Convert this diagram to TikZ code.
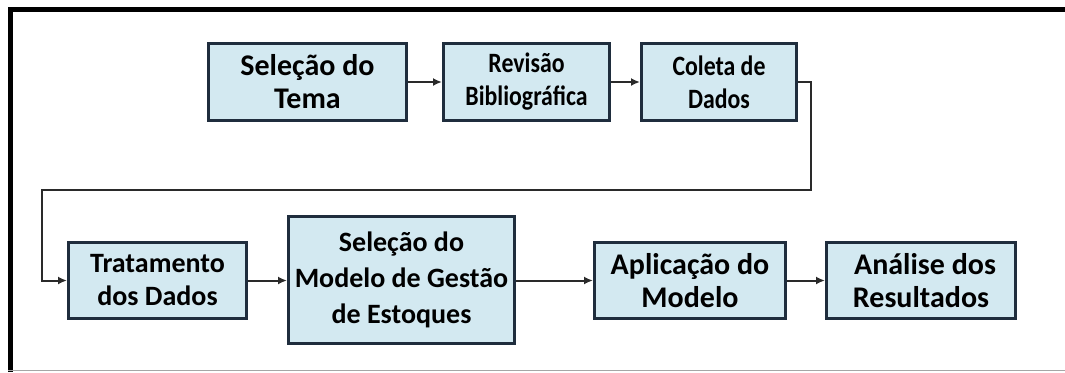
\documentclass[tikz,border=0pt]{standalone}
\usepackage{fontspec}
\usepackage{graphicx}
\setmainfont{Carlito}
\newcommand{\narrowline}[1]{\scalebox{0.85}[1]{#1}}
\usetikzlibrary{arrows.meta}
\definecolor{boxfill}{HTML}{D3E9F1}
\definecolor{boxline}{HTML}{1F2D3D}
\definecolor{linkcol}{HTML}{2A2A2A}
\tikzset{
  stepbox/.style={draw=boxline, fill=boxfill, line width=3pt, align=center, inner sep=0pt,
    font=\fontsize{28}{33}\selectfont\bfseries},
  bigtext/.style={font=\fontsize{30}{33}\selectfont\bfseries},
  link/.style={draw=linkcol, line width=2pt, -{Latex[length=9pt,width=8pt]}},
}
\begin{document}
\begin{tikzpicture}[x=1pt,y=-1pt]
\useasboundingbox (0,0) rectangle (1065,372);
% frame
\draw[line width=5pt, black] (10.5,372) -- (10.5,9.5) -- (1065,9.5);
\draw[line width=1.5pt, gray!70] (8,370.5) -- (1065,370.5);
% boxes
\node[stepbox, bigtext, minimum width=198pt, minimum height=77pt] (tema) at (307.5,82) {Seleção do\\Tema};
\node[stepbox, minimum width=166pt, minimum height=77pt] (rev) at (526.5,82) {\narrowline{Revisão}\\\narrowline{Bibliográfica}};
\node[stepbox, minimum width=155pt, minimum height=77pt] (col) at (719,82) {\narrowline{Coleta de}\\\narrowline{Dados}};
\node[stepbox, minimum width=178pt, minimum height=76pt] (trat) at (157.5,280.5) {Tratamento\\dos Dados};
\node[stepbox, minimum width=226pt, minimum height=127pt, font=\fontsize{28}{36}\selectfont\bfseries] (mod) at (401.5,280) {Seleção do\\Modelo de Gestão\\de Estoques};
\node[stepbox, bigtext, minimum width=191pt, minimum height=76pt] (apl) at (690,280.5) {Aplicação do\\Modelo};
\node[stepbox, bigtext, minimum width=189pt, minimum height=76pt] (ana) at (921,280.5) {\hspace{8pt}Análise dos\\Resultados};
% routing
\coordinate (c1) at (811,82);
\coordinate (c2) at (811,190);
\coordinate (c3) at (42,190);
\coordinate (c4) at (42,280.5);
% connectors
\draw[link] (tema) -- (rev);
\draw[link] (rev) -- (col);
\draw[link] (col.east) -- (c1) -- (c2) -- (c3) -- (c4) -- (trat.west);
\draw[link] (trat) -- (trat -| mod.west);
\draw[link] (apl -| mod.east) -- (apl);
\draw[link] (apl) -- (ana);
\end{tikzpicture}
\end{document}
